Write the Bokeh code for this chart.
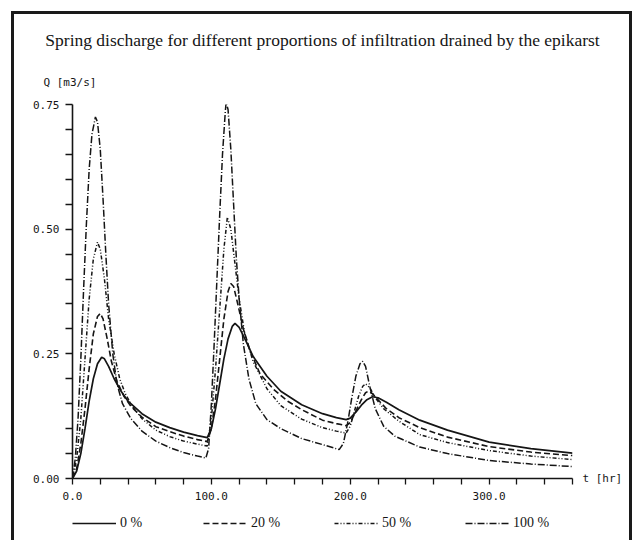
from bokeh.plotting import figure
from bokeh.layouts import column
from bokeh.models import (FixedTicker, Legend, LegendItem, NumeralTickFormatter, Range1d,
                          Title, LinearAxis)
from bokeh.embed import file_html
from bokeh.resources import INLINE

title_text = "Spring discharge for different proportions of infiltration drained by the epikarst"
y_label = "Q [m3/s]"
x_label = "t [hr]"
series_names = ["0 %", "20 %", "50 %", "100 %"]
series_dash = ["solid", "6 3", "4 2 1 2 1 2", "7 2 1 2"]
series_width = [1.7, 1.6, 1.5, 1.5]

x_major = [0, 100, 200, 300]
x_minor = [20, 40, 60, 80, 120, 140, 160, 180, 220, 240, 260, 280, 320, 340, 360]
y_major = [0.0, 0.25, 0.5, 0.75]
y_minor = [0.05, 0.1, 0.15, 0.2, 0.3, 0.35, 0.4, 0.45, 0.55, 0.6, 0.65, 0.7]

# 0 % (solid)
t_0 = [0, 3, 6, 9, 12, 15, 18, 21, 23, 26, 30, 35, 40, 50, 60, 70, 80, 90, 97,
       100, 103, 106, 109, 112, 115, 117, 120, 125, 130, 140, 150, 165, 180, 190, 197,
       200, 204, 208, 212, 216, 220, 226, 235, 250, 270, 300, 330, 360]
q_0 = [0.0, 0.015, 0.05, 0.10, 0.155, 0.20, 0.23, 0.243, 0.24, 0.225, 0.20, 0.175, 0.155, 0.13, 0.113, 0.102, 0.093, 0.086, 0.082,
       0.10, 0.14, 0.19, 0.24, 0.28, 0.305, 0.311, 0.303, 0.275, 0.245, 0.205, 0.175, 0.148, 0.13, 0.122, 0.118,
       0.121, 0.133, 0.147, 0.158, 0.164, 0.162, 0.153, 0.138, 0.117, 0.097, 0.073, 0.06, 0.051]

# 20 % (dashed)
t_20 = [0, 3, 6, 9, 12, 15, 18, 20, 22, 25, 28, 32, 37, 42, 50, 60, 70, 80, 90, 97,
        100, 103, 106, 109, 112, 114, 116, 119, 123, 128, 135, 145, 155, 165, 180, 190, 197,
        200, 204, 208, 211, 213, 216, 220, 226, 235, 250, 270, 300, 330, 360]
q_20 = [0.0, 0.02, 0.07, 0.14, 0.22, 0.29, 0.325, 0.331, 0.32, 0.28, 0.235, 0.195, 0.165, 0.145, 0.123, 0.104, 0.094, 0.085, 0.078, 0.074,
        0.10, 0.16, 0.24, 0.32, 0.375, 0.391, 0.385, 0.35, 0.30, 0.255, 0.21, 0.178, 0.155, 0.138, 0.117, 0.11, 0.106,
        0.112, 0.135, 0.158, 0.172, 0.175, 0.17, 0.158, 0.14, 0.122, 0.102, 0.083, 0.064, 0.053, 0.046]

# 50 % (dash-dot-dot)
t_50 = [0, 3, 6, 9, 12, 15, 18, 20, 23, 26, 30, 34, 38, 43, 50, 60, 70, 80, 90, 97,
        100, 103, 106, 109, 111.5, 114, 117, 120, 124, 130, 140, 150, 165, 180, 190, 197,
        200, 203, 206, 209, 211, 214, 218, 224, 235, 250, 270, 300, 330, 360]
q_50 = [0.0, 0.04, 0.12, 0.24, 0.36, 0.44, 0.474, 0.46, 0.40, 0.32, 0.25, 0.20, 0.17, 0.145, 0.12, 0.097, 0.084, 0.075, 0.069, 0.065,
        0.12, 0.22, 0.34, 0.46, 0.524, 0.50, 0.43, 0.36, 0.29, 0.235, 0.18, 0.146, 0.119, 0.102, 0.095, 0.091,
        0.105, 0.135, 0.165, 0.185, 0.19, 0.182, 0.162, 0.14, 0.115, 0.088, 0.072, 0.056, 0.045, 0.038]

# 100 % (dash-dot)
t_100 = [0, 2, 4, 6, 8, 10, 12, 14, 16.5, 18, 20, 22, 24, 26, 29, 32, 36, 42, 50, 60, 70, 80, 90, 96,
         98, 100, 102, 104, 106, 108, 110, 110.6, 112, 114, 116, 118, 120, 123, 127, 132, 140, 150, 165, 180, 192,
         195, 198, 201, 204, 207, 209, 211, 214, 218, 224, 232, 250, 270, 300, 330, 360]
q_100 = [0.0, 0.04, 0.12, 0.24, 0.38, 0.51, 0.62, 0.69, 0.725, 0.715, 0.66, 0.56, 0.45, 0.35, 0.25, 0.19, 0.15, 0.12, 0.095, 0.075, 0.062, 0.052, 0.045, 0.041,
         0.06, 0.15, 0.27, 0.40, 0.53, 0.65, 0.735, 0.754, 0.74, 0.66, 0.55, 0.44, 0.36, 0.27, 0.20, 0.15, 0.118, 0.10, 0.08, 0.068, 0.058,
         0.07, 0.11, 0.16, 0.205, 0.23, 0.235, 0.225, 0.185, 0.14, 0.105, 0.085, 0.063, 0.05, 0.036, 0.029, 0.024]

ink = "#151515"
mono = "DejaVu Sans Mono"
serif = "Liberation Serif"

series_t = [t_0, t_20, t_50, t_100]
series_q = [q_0, q_20, q_50, q_100]

# ---------------- main chart ----------------
p = figure(width=615, height=494, x_range=Range1d(0, 360), y_range=Range1d(0, 0.75),
           output_backend="svg", toolbar_location=None,
           min_border_left=58, min_border_right=57, min_border_top=90, min_border_bottom=30)
p.outline_line_color = None
p.grid.visible = False
p.background_fill_color = "white"
p.border_fill_color = "white"

p.title.text = title_text
p.title.align = "center"
p.title.text_font = serif
p.title.text_font_size = "17.5px"
p.title.text_font_style = "normal"
p.title.text_color = ink
p.title.standoff = 15
p.add_layout(Title(text=y_label, align="left", offset=-29, text_font=mono,
                   text_font_size="11px", text_font_style="normal", text_color=ink,
                   standoff=32), "above")

xa = p.xaxis[0]
xa.ticker = FixedTicker(ticks=x_major, minor_ticks=x_minor)
xa.formatter = NumeralTickFormatter(format="0.0")
ya = p.yaxis[0]
ya.ticker = FixedTicker(ticks=y_major, minor_ticks=y_minor)
ya.formatter = NumeralTickFormatter(format="0.00")
for ax in (xa, ya):
    ax.axis_line_color = ink
    ax.axis_line_width = 1.6
    ax.major_tick_line_color = ink
    ax.minor_tick_line_color = ink
    ax.major_tick_line_width = 1.3
    ax.minor_tick_line_width = 1.3
    ax.major_tick_in = 0
    ax.minor_tick_in = 0
    ax.major_label_text_font = mono
    ax.major_label_text_font_size = "11px"
    ax.major_label_text_color = ink
xa.major_tick_out = 6
xa.minor_tick_out = 6
xa.major_label_standoff = 7
ya.major_tick_out = 7
ya.minor_tick_out = 7
ya.major_label_standoff = 6

# x-quantity label at the right end of the time axis
t_axis = LinearAxis(ticker=FixedTicker(ticks=[0], minor_ticks=[]),
                    major_label_overrides={0: x_label},
                    axis_line_color=None, major_tick_line_color=None,
                    minor_tick_line_color=None, major_label_standoff=4,
                    major_label_text_font=mono, major_label_text_font_size="11px",
                    major_label_text_color=ink)
p.add_layout(t_axis, "right")

for t, q, d, w in zip(series_t, series_q, series_dash, series_width):
    p.line(t, q, line_color=ink, line_width=w, line_dash=d)

# ---------------- legend strip (its frame is aligned with the chart frame) ----------------
leg = figure(width=615, height=32, x_range=Range1d(-2, -1), y_range=Range1d(0, 1),
             output_backend="svg", toolbar_location=None, min_border=0,
             x_axis_location=None, y_axis_location=None)
leg.outline_line_color = None
leg.xgrid.visible = False
leg.ygrid.visible = False
leg.background_fill_color = "white"
leg.border_fill_color = "white"
# legend proxies carry the same series (outside this strip's view, so only the key shows)
proxies = [leg.line(t, q, line_color=ink, line_width=w, line_dash=d)
           for t, q, d, w in zip(series_t, series_q, series_dash, series_width)]
legend = Legend(items=[LegendItem(label=n, renderers=[r]) for n, r in zip(series_names, proxies)],
                orientation="horizontal", location=(0, 7),
                glyph_width=44, glyph_height=20, label_width=34, label_height=20,
                label_standoff=4, spacing=49, padding=0, margin=0,
                border_line_color=None, background_fill_alpha=0,
                label_text_font=serif, label_text_font_size="14px",
                label_text_color=ink)
leg.add_layout(legend, "center")

page = column(p, leg, spacing=0)
page.styles = {"margin-left": "11px", "margin-top": "11px",
               "border-left": "3px solid #1a1a1a", "border-top": "3px solid #1a1a1a",
               "border-right": "3px solid #1a1a1a"}

open("out.html", "w").write(file_html(page, INLINE))
